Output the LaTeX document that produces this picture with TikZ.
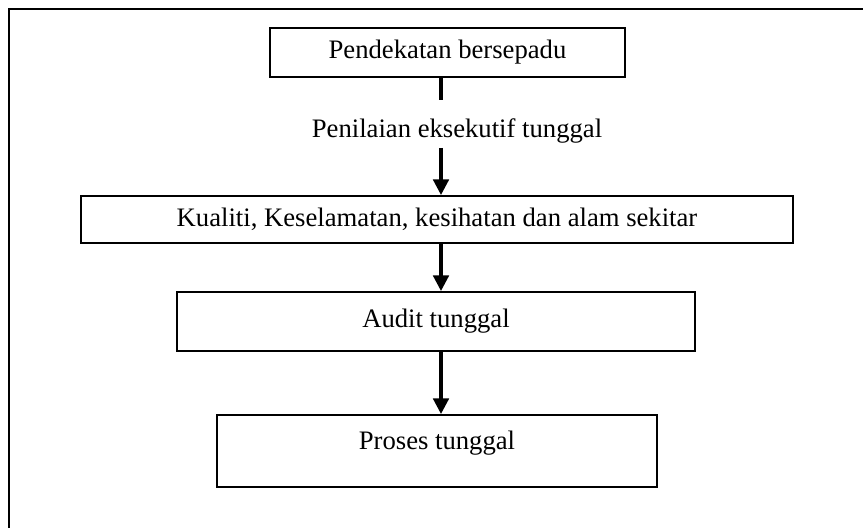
\documentclass[tikz,border=0pt]{standalone}
\usepackage{fontspec}
\setmainfont{Liberation Serif}
\usetikzlibrary{arrows.meta}

\tikzset{
  kotak/.style={draw, line width=0.9pt, inner sep=0pt, font=\fontsize{12}{14}\selectfont},
  label/.style={inner sep=0pt, font=\fontsize{12}{14}\selectfont},
  anak/.style={line width=1.4pt, -{Triangle[width=7pt,length=7pt]}}
}

\begin{document}
\begin{tikzpicture}[x=0.45pt, y=-0.45pt]
\useasboundingbox (0,0) rectangle (863,528);
% bingkai luar
\draw[line width=1.2pt] (9,530) -- (9,9) -- (865,9);
% kotak
\node[kotak, minimum width=159.75pt, minimum height=22.05pt] (pendekatan) at (447.5,52.5) {Pendekatan bersepadu};
\node[label] (penilaian) at (457,131) {Penilaian eksekutif tunggal};
\node[kotak, minimum width=320.4pt, minimum height=21.15pt] (kualiti) at (437,219.5) {Kualiti, Keselamatan, kesihatan dan alam sekitar};
\node[kotak, minimum width=233.1pt, minimum height=26.55pt] (audit) at (436,321.5) {Audit tunggal};
\node[kotak, minimum width=198pt, minimum height=32.4pt, text depth=10pt] (proses) at (437,451) {Proses tunggal};
% anak panah
\coordinate (atas) at (441,100);
\coordinate (bawah) at (441,148);
\draw[line width=1.4pt] (pendekatan.south -| atas) -- (atas);
\draw[anak] (bawah) -- (kualiti.north -| bawah);
\draw[anak] (kualiti.south -| atas) -- (audit.north -| atas);
\draw[anak] (audit.south -| atas) -- (proses.north -| atas);
\end{tikzpicture}
\end{document}
